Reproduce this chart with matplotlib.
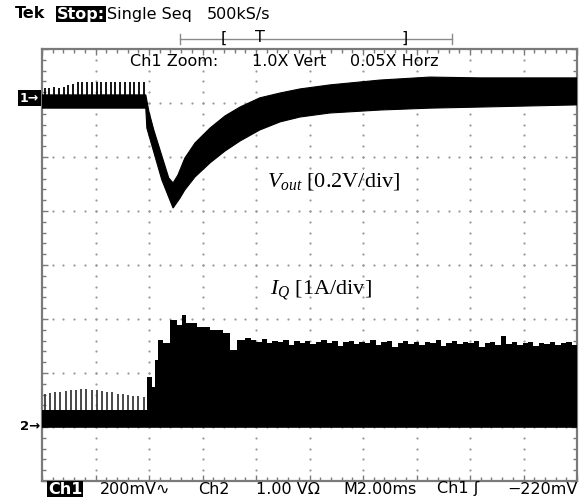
import numpy as np
import matplotlib
matplotlib.use("Agg")
import matplotlib.pyplot as plt

# scope screen: 10 div wide, 8 div tall; time axis given in divisions
ch1_pos = 7.1      # ch1 marker (div)
ch2_pos = 1.0      # ch2 marker (div)
v_per_div = 200.0  # mV/div
a_per_div = 1.0    # A/div

# Vout band (mV around ch1 marker), upper and lower edge of the thick trace
vout_hi_t = [0.00, 1.94, 2.00, 2.09, 2.37, 2.45, 2.54, 2.67, 2.86, 3.14, 3.42, 3.70, 4.07, 4.45, 4.82,
             5.38, 6.32, 7.25, 8.19, 10.0]
vout_hi = [10, 10, -53, -120, -298, -316, -287, -224, -168, -113, -68, -35, -1, 17, 32,
           47, 65, 76, 73, 73]
vout_lo_t = [0.00, 1.94, 1.96, 2.24, 2.45, 2.58, 2.67, 2.86, 3.14, 3.42, 3.70, 4.07, 4.45, 4.82,
             5.38, 6.32, 7.25, 8.19, 10.0]
vout_lo = [-39, -39, -113, -305, -409, -372, -342, -294, -242, -198, -161, -120, -90, -72,
           -57, -46, -39, -35, -27]
# ripple spikes on top of Vout before the load step (mV)
vout_spk = [34, 36, 38, 36, 40, 46, 52, 56, 58, 58, 57, 58, 59, 58, 57, 58, 58, 57, 58, 58, 57, 58]
vout_spk_span = [0.05, 1.90]

# IQ before the step: solid part and ripple spikes (A)
iq_base = 0.31
iq_spk = [0.62, 0.63, 0.64, 0.65, 0.66, 0.68, 0.69, 0.70, 0.70, 0.69,
          0.68, 0.67, 0.65, 0.64, 0.62, 0.61, 0.60, 0.58, 0.57, 0.56]
iq_spk_span = [0.05, 1.90]
# IQ after the step, top of the trace (A)
iq_t = [1.96, 2.06, 2.11, 2.17, 2.26, 2.39, 2.52, 2.62, 2.69, 2.90, 3.14, 3.38, 3.51, 3.64, 3.80]
iq_top = [0.93, 0.74, 1.24, 1.61, 1.56, 1.98, 1.89, 2.07, 1.93, 1.85, 1.80, 1.74, 1.43, 1.61, 1.65]
iq_tail = [1.62, 1.58, 1.63, 1.55, 1.60, 1.57, 1.61, 1.52, 1.59, 1.56,
           1.60, 1.54, 1.58, 1.62, 1.55, 1.59, 1.50, 1.57, 1.60, 1.53,
           1.58, 1.55, 1.61, 1.52, 1.57, 1.59, 1.48, 1.56, 1.60, 1.54,
           1.57, 1.52, 1.58, 1.55, 1.62, 1.50, 1.56, 1.59, 1.53, 1.57,
           1.55, 1.60, 1.49, 1.56, 1.58, 1.52, 1.68, 1.54, 1.57, 1.51,
           1.55, 1.58, 1.50, 1.56, 1.53, 1.57, 1.52, 1.55, 1.58, 1.51, 1.50]
iq_tail_span = [3.90, 10.0]

W, H = 584, 497
fig = plt.figure(figsize=(W / 100, H / 100), dpi=100)
fig.patch.set_facecolor("white")

# plot area
L, R, T, B = 42, 577, 49, 481
ax = fig.add_axes([L / W, 1 - B / H, (R - L) / W, (B - T) / H])
ax.set_xlim(0, 10)
ax.set_ylim(0, 8)
ax.set_facecolor("none")
for s in ax.spines.values():
    s.set_color("#7a7a7a")
    s.set_linewidth(1.6)
ax.set_xticks(np.arange(0, 10.01, 1))
ax.set_yticks(np.arange(0, 8.01, 1))
ax.set_xticks(np.arange(0, 10.01, 0.2), minor=True)
ax.set_yticks(np.arange(0, 8.01, 0.2), minor=True)
ax.tick_params(which="both", direction="in", top=True, right=True, color="#7a7a7a",
               labelbottom=False, labelleft=False)
ax.tick_params(which="major", length=4, width=1)
ax.tick_params(which="minor", length=3, width=1)

# dotted graticule
fine_x = np.arange(0, 10.01, 0.2)
fine_y = np.arange(0, 8.01, 0.2)
for gx in range(1, 10):
    ax.plot(np.full_like(fine_y, gx), fine_y, ls="none", marker="o", ms=1.6, mec="none", mfc="#9a9a9a", zorder=1)
for gy in range(1, 8):
    ax.plot(fine_x, np.full_like(fine_x, gy), ls="none", marker="o", ms=1.6, mec="none", mfc="#9a9a9a", zorder=1)

# Vout trace
hi_y = ch1_pos + np.array(vout_hi) / v_per_div
lo_y = ch1_pos + np.array(vout_lo) / v_per_div
ax.fill(np.r_[vout_hi_t, vout_lo_t[::-1]], np.r_[hi_y, lo_y[::-1]], color="black", lw=0.8, zorder=3)
spk_t = np.linspace(vout_spk_span[0], vout_spk_span[1], len(vout_spk))
ax.vlines(spk_t, ch1_pos + vout_hi[0] / v_per_div, ch1_pos + np.array(vout_spk) / v_per_div,
          color="black", lw=1.3, zorder=3)

# IQ trace
ax.fill_between([0, iq_t[0]], ch2_pos, ch2_pos + iq_base / a_per_div, color="black", lw=0, zorder=3)
iq_spk_t = np.linspace(iq_spk_span[0], iq_spk_span[1], len(iq_spk))
ax.vlines(iq_spk_t, ch2_pos + iq_base / a_per_div, ch2_pos + np.array(iq_spk) / a_per_div,
          color="#3a3a3a", lw=1.3, zorder=3)
tail_t = np.linspace(iq_tail_span[0], iq_tail_span[1], len(iq_tail))
t_all = np.r_[iq_t, tail_t]
y_all = ch2_pos + np.r_[iq_top, iq_tail] / a_per_div
ax.fill_between(t_all, ch2_pos, y_all, step="post", color="black", lw=0, zorder=3)
ax.plot([0, 10], [ch2_pos, ch2_pos], color="black", lw=1.2, zorder=3)

# overlay in pixel coordinates for the screen texts
ov = fig.add_axes([0, 0, 1, 1], zorder=5)
ov.set_xlim(0, W)
ov.set_ylim(H, 0)
ov.set_axis_off()

sans = ["DejaVu Sans"]
fs = 11.5
ov.text(15, 14, "Tek", fontsize=fs, fontweight="bold", family=sans, va="center", ha="left")
ov.text(57, 14, "Stop:", fontsize=fs, fontweight="bold", family=sans, va="center", ha="left", color="white",
        bbox=dict(boxstyle="square,pad=0.05", fc="black", ec="none"))
ov.text(107, 14, "Single Seq", fontsize=fs, family=sans, va="center", ha="left")
ov.text(207, 14, "500kS/s", fontsize=fs, family=sans, va="center", ha="left")

# record bar
ov.plot([180, 452], [39, 39], color="#8a8a8a", lw=1)
ov.plot([180, 180], [34, 44], color="#8a8a8a", lw=1)
ov.plot([452, 452], [34, 44], color="#8a8a8a", lw=1)
ov.text(224, 38, "[", fontsize=fs, family=sans, va="center", ha="center")
ov.text(260, 38, "T", fontsize=fs, family=sans, va="center", ha="center")
ov.text(405, 38, "]", fontsize=fs, family=sans, va="center", ha="center")

ov.text(130, 62, "Ch1 Zoom:", fontsize=fs, family=sans, va="center", ha="left")
ov.text(252, 62, "1.0X Vert", fontsize=fs, family=sans, va="center", ha="left")
ov.text(350, 62, "0.05X Horz", fontsize=fs, family=sans, va="center", ha="left")

# channel markers
ov.text(20, 98, "1\u2192", fontsize=9, fontweight="bold", family=sans, va="center", ha="left", color="white",
        bbox=dict(boxstyle="square,pad=0.15", fc="black", ec="none"))
ov.text(20, 427, "2\u2192", fontsize=9.5, fontweight="bold", family=sans, va="center", ha="left")

# trace labels
plt.rcParams["mathtext.fontset"] = "custom"
plt.rcParams["mathtext.rm"] = "Liberation Serif"
plt.rcParams["mathtext.it"] = "Liberation Serif:italic"
ov.text(267, 182, r"$V_{out}$ [0.2V/div]", fontsize=16, family="Liberation Serif", va="center", ha="left")
ov.text(270, 290, r"$I_{Q}$ [1A/div]", fontsize=16, family="Liberation Serif", va="center", ha="left")

# bottom status line
yb = 489
ov.text(48, yb, "Ch1", fontsize=fs, fontweight="bold", family=sans, va="center", ha="left", color="white",
        bbox=dict(boxstyle="square,pad=0.05", fc="black", ec="none"))
ov.text(100, yb, "200mV\u223f", fontsize=fs, family=sans, va="center", ha="left")
ov.text(198, yb, "Ch2", fontsize=fs, family=sans, va="center", ha="left")
ov.text(256, yb, "1.00 V\u03a9", fontsize=fs, family=sans, va="center", ha="left")
ov.text(343, yb, "M2.00ms", fontsize=fs, family=sans, va="center", ha="left")
ov.text(437, yb, "Ch1 \u0283", fontsize=fs, family=sans, va="center", ha="left")
ov.text(578, yb, "\u2212220mV", fontsize=fs, family=sans, va="center", ha="right")

fig.savefig("out.png", dpi=100)
